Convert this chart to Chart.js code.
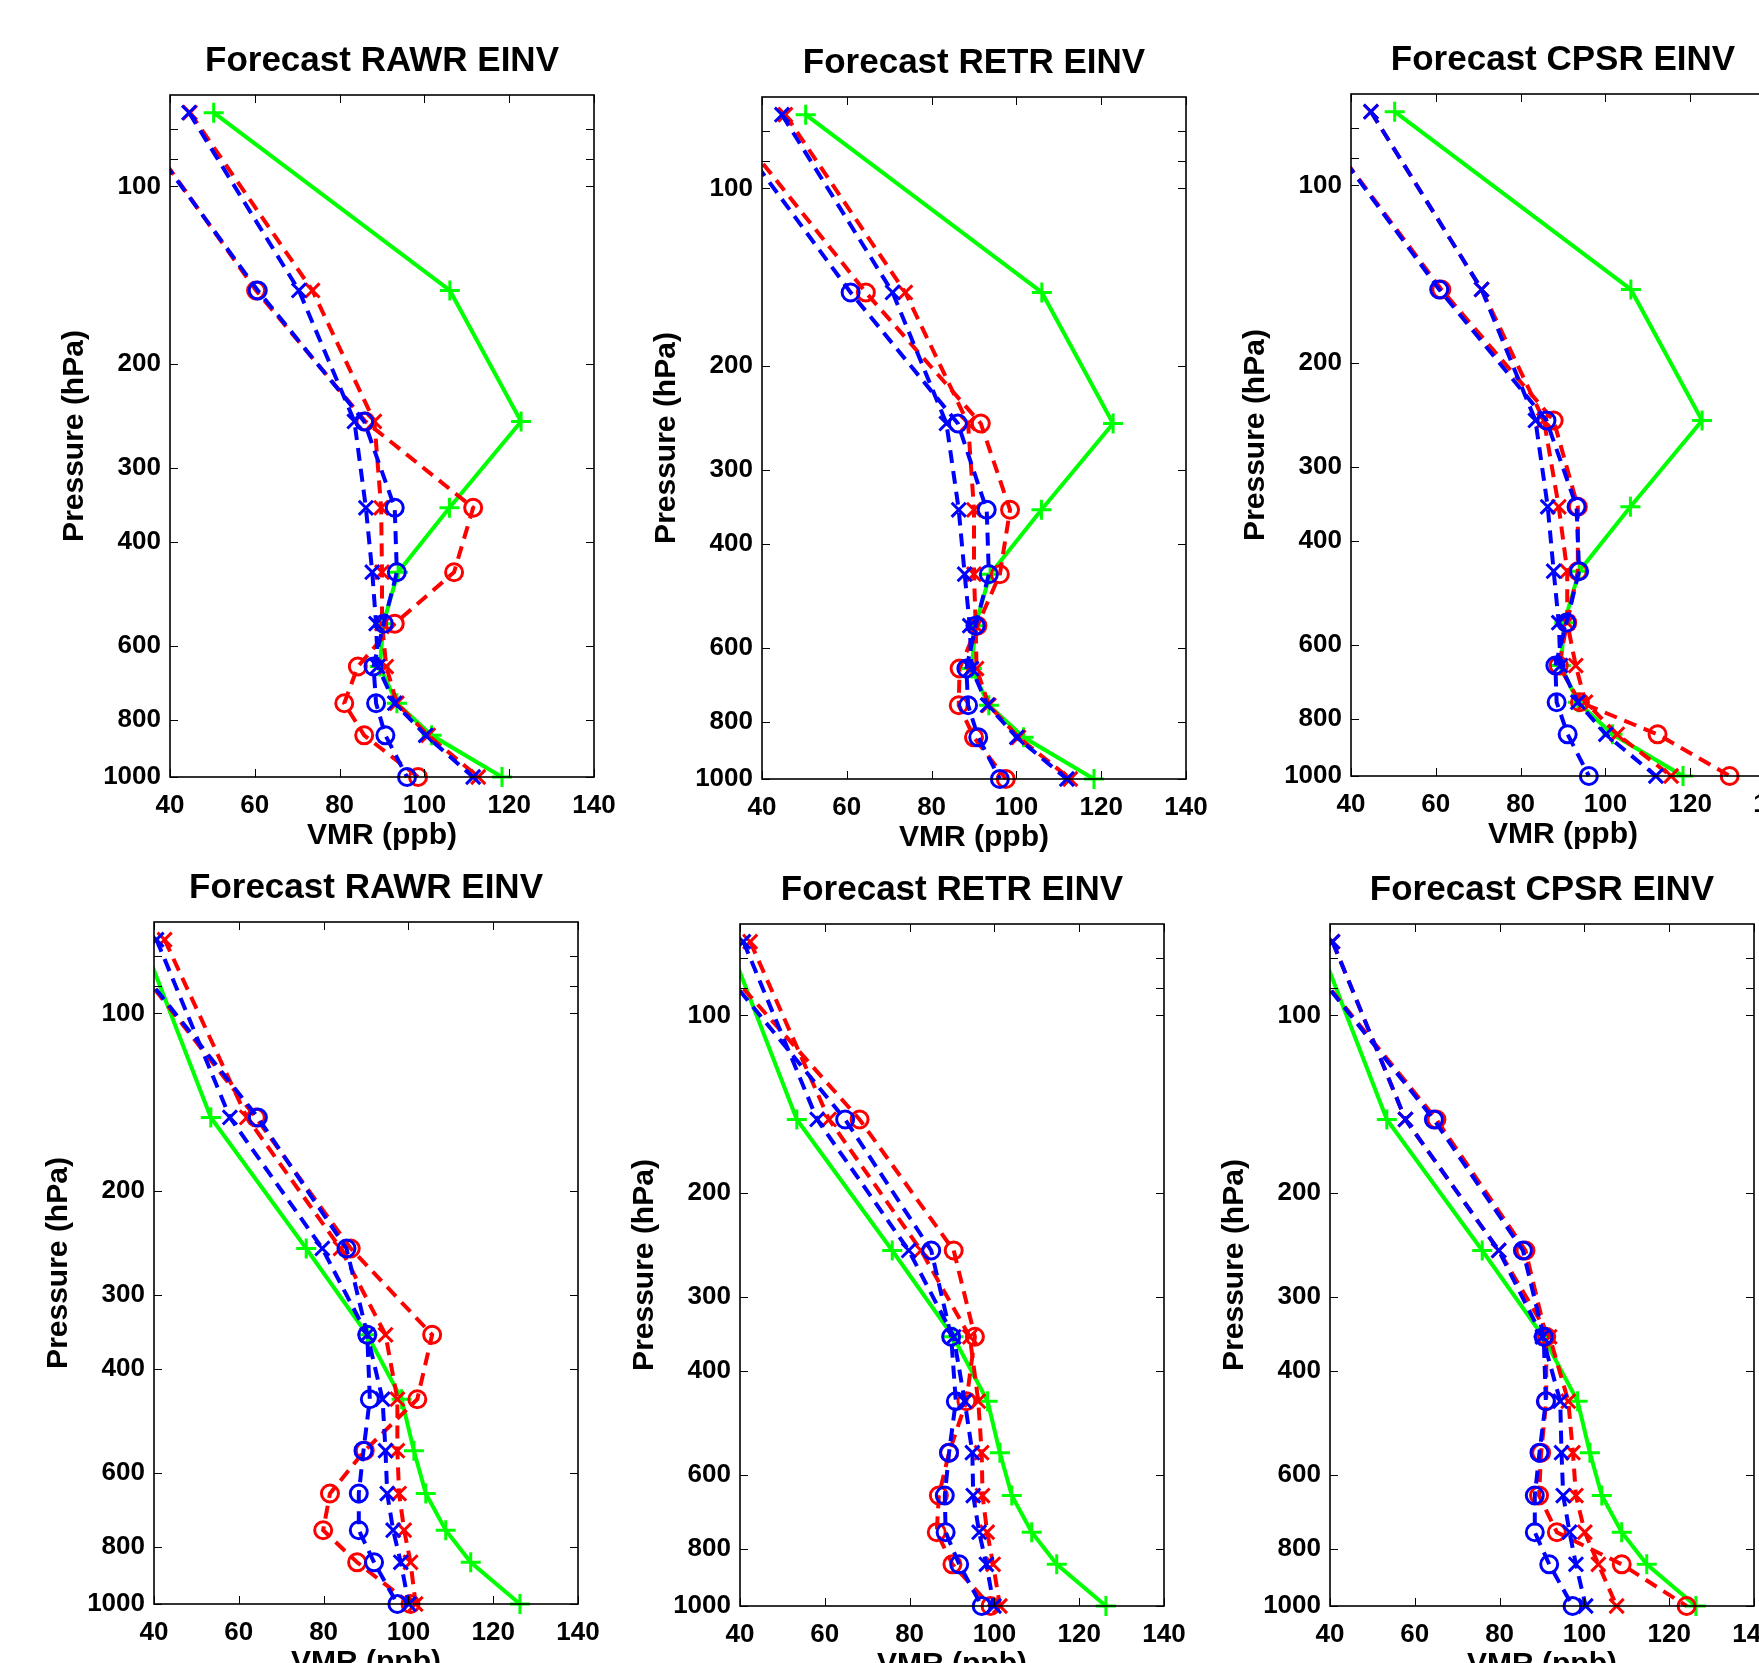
<!DOCTYPE html>
<html>
<head>
<meta charset="utf-8">
<title>Forecast EINV profiles</title>
<script src="https://cdn.jsdelivr.net/npm/chart.js@4.4.1/dist/chart.umd.min.js"></script>
<style>
    html, body { margin: 0; padding: 0; background: #fff; }
    body { width: 1759px; height: 1663px; overflow: hidden; position: relative; }
    canvas { position: absolute; }
</style>
</head>
<body>
<script>
/* ------------------ DATA ------------------ */
const levels = [75, 150, 250, 350, 450, 550, 650, 750, 850, 1000];   // hPa

const xTicks = [40, 60, 80, 100, 120, 140];
const pLabels = [100, 200, 300, 400, 600, 800, 1000];
const pMinor = [80, 90];

const titles = ["Forecast RAWR EINV", "Forecast RETR EINV", "Forecast CPSR EINV"];

// green reference profile (same in each row)
const greenTop = [50.3, 106.0, 122.8, 105.9, 93.8, 90.3, 89.5, 93.5, 101.7, 118.3];
const greenBot = [37.2, 53.4, 75.9, 90.3, 98.4, 101.3, 104.1, 108.8, 114.7, 126.3];

// top row
const rawrTopRedX  = [44.7, 73.6, 88.2, 89.8, 90.0, 90.0, 91.0, 93.5, 100.9, 112.7];
const rawrTopBlueX = [44.5, 70.4, 83.5, 86.2, 87.7, 88.6, 89.0, 93.0, 100.3, 111.5];
const rawrTopRedO  = [30.5, 60.3, 86.1, 111.5, 107.0, 93.0, 84.3, 81.1, 85.8, 98.5];
const rawrTopBlueO = [30.0, 60.7, 85.8, 93.0, 93.5, 90.4, 88.0, 88.6, 90.8, 95.9];

const retrTopRedX  = [45.5, 73.8, 88.6, 90.0, 90.0, 90.4, 90.6, 93.5, 100.5, 112.7];
const retrTopBlueX = [44.7, 70.8, 83.5, 86.4, 87.8, 89.0, 89.4, 93.2, 100.1, 111.9];
const retrTopRedO  = [31.0, 64.5, 91.6, 98.5, 96.1, 90.8, 86.6, 86.4, 90.0, 97.5];
const retrTopBlueO = [30.0, 60.9, 86.2, 93.0, 93.5, 90.4, 88.2, 88.6, 91.0, 96.1];

const cpsrTopRedX  = [44.7, 70.8, 85.5, 89.0, 91.0, 91.0, 93.0, 95.3, 102.8, 115.5];
const cpsrTopBlueX = [44.7, 70.8, 83.5, 86.4, 87.8, 89.0, 89.4, 93.5, 100.1, 111.9];
const cpsrTopRedO  = [30.0, 61.3, 87.8, 93.5, 93.5, 91.0, 89.0, 94.0, 112.3, 129.3];
const cpsrTopBlueO = [30.0, 60.8, 86.1, 93.2, 93.8, 90.8, 88.2, 88.5, 91.1, 96.1];

// bottom row
const rawrBotRedX  = [42.5, 61.9, 84.0, 94.6, 97.4, 97.4, 97.8, 99.0, 100.5, 101.7];
const rawrBotBlueX = [40.6, 57.9, 79.7, 90.3, 93.9, 94.6, 95.0, 96.4, 98.2, 100.1];
const rawrBotRedO  = [31.0, 64.0, 86.4, 105.6, 102.1, 89.7, 81.5, 79.9, 87.9, 100.5];
const rawrBotBlueO = [31.2, 64.5, 85.4, 90.3, 90.9, 89.4, 88.3, 88.3, 91.9, 97.4];

const retrBotRedX  = [42.4, 61.0, 82.7, 94.2, 96.2, 97.0, 97.2, 98.3, 99.7, 101.3];
const retrBotBlueX = [40.8, 58.2, 79.8, 90.4, 93.0, 94.8, 95.0, 96.4, 98.1, 99.9];
const retrBotRedO  = [31.0, 68.2, 90.4, 95.4, 93.4, 89.3, 86.9, 86.4, 90.1, 99.1];
const retrBotBlueO = [30.5, 64.8, 85.1, 89.8, 90.9, 89.3, 88.3, 88.5, 91.7, 97.0];

const cpsrBotRedX  = [40.6, 57.8, 79.8, 91.8, 96.2, 97.3, 98.0, 100.1, 103.3, 107.6];
const cpsrBotBlueX = [40.6, 57.8, 79.8, 90.1, 94.3, 94.6, 95.0, 96.5, 98.0, 100.3];
const cpsrBotRedO  = [31.0, 65.1, 86.1, 91.0, 91.0, 89.8, 89.3, 93.5, 108.8, 124.1];
const cpsrBotBlueO = [31.0, 64.5, 85.5, 90.4, 90.9, 89.4, 88.3, 88.3, 91.7, 97.2];

/* ------------------ LAYOUT ------------------ */
// plot box left/top for each panel (page pixels)
const panels = [
    { title: titles[0], left: 170,  top: 95,  green: greenTop, rx: rawrTopRedX, bx: rawrTopBlueX, ro: rawrTopRedO, bo: rawrTopBlueO },
    { title: titles[1], left: 762,  top: 97,  green: greenTop, rx: retrTopRedX, bx: retrTopBlueX, ro: retrTopRedO, bo: retrTopBlueO },
    { title: titles[2], left: 1351, top: 94,  green: greenTop, rx: cpsrTopRedX, bx: cpsrTopBlueX, ro: cpsrTopRedO, bo: cpsrTopBlueO },
    { title: titles[0], left: 154,  top: 922, green: greenBot, rx: rawrBotRedX, bx: rawrBotBlueX, ro: rawrBotRedO, bo: rawrBotBlueO },
    { title: titles[1], left: 740,  top: 924, green: greenBot, rx: retrBotRedX, bx: retrBotBlueX, ro: retrBotRedO, bo: retrBotBlueO },
    { title: titles[2], left: 1330, top: 924, green: greenBot, rx: cpsrBotRedX, bx: cpsrBotBlueX, ro: cpsrBotRedO, bo: cpsrBotBlueO }
];

const AXIS_W = 170;   // room left of the box
const TOP_H = 95;     // room above the box
const BOX_W = 424;
const BOX_H = 682;
const BOTTOM_H = 93;
const RIGHT_PAD = 45;

Chart.defaults.font.family = "'Liberation Sans', Arial, Helvetica, sans-serif";
Chart.defaults.color = "#000";

/* ------------------ BOX + INWARD TICKS ------------------ */
const frameTicks = {
    id: "frameTicks",
    afterDraw(chart) {
        const { ctx, chartArea: a, scales: { x, y } } = chart;
        const len = 8;
        ctx.save();
        ctx.strokeStyle = "#000";
        ctx.lineWidth = 1;
        ctx.beginPath();
        xTicks.forEach(v => {
            const px = Math.round(x.getPixelForValue(v)) + 0.5;
            ctx.moveTo(px, a.bottom); ctx.lineTo(px, a.bottom - len);
            ctx.moveTo(px, a.top); ctx.lineTo(px, a.top + len);
        });
        pMinor.concat(pLabels).forEach(v => {
            const py = Math.round(y.getPixelForValue(v)) + 0.5;
            ctx.moveTo(a.left, py); ctx.lineTo(a.left + len, py);
            ctx.moveTo(a.right, py); ctx.lineTo(a.right - len, py);
        });
        ctx.stroke();
        ctx.lineWidth = 1.6;
        ctx.strokeRect(a.left, a.top, a.right - a.left, a.bottom - a.top);
        ctx.restore();
    }
};

/* ------------------ SERIES ------------------ */
function makeSeries(values, color, style, dashed) {
    return {
        data: values.map((v, i) => ({ x: v, y: levels[i] })),
        showLine: true,
        borderColor: color,
        backgroundColor: "rgba(0,0,0,0)",
        borderWidth: 4,
        borderDash: dashed ? [13, 8] : [],
        pointStyle: style,
        pointRadius: style === "circle" ? 8.5 : 10,
        pointBorderWidth: 3,
        pointBorderColor: color,
        pointBackgroundColor: "rgba(0,0,0,0)",
        tension: 0,
        clip: { left: 0, top: 15, right: 15, bottom: 15 }
    };
}

function drawPanel(p) {
    const canvas = document.createElement("canvas");
    canvas.width = AXIS_W + BOX_W + RIGHT_PAD;
    canvas.height = TOP_H + BOX_H + BOTTOM_H;
    canvas.style.left = (p.left - AXIS_W) + "px";
    canvas.style.top = (p.top - TOP_H) + "px";
    document.body.appendChild(canvas);

    new Chart(canvas.getContext("2d"), {
        type: "scatter",
        data: {
            // first entry is drawn on top
            datasets: [
                makeSeries(p.bo, "#0000ff", "circle", true),
                makeSeries(p.bx, "#0000ff", "crossRot", true),
                makeSeries(p.ro, "#ff0000", "circle", true),
                makeSeries(p.rx, "#ff0000", "crossRot", true),
                makeSeries(p.green, "#00ff00", "cross", false)
            ]
        },
        options: {
            responsive: false,
            animation: false,
            devicePixelRatio: 1,
            events: [],
            layout: { padding: { left: 0, right: RIGHT_PAD, top: 0, bottom: 0 } },
            plugins: {
                legend: { display: false },
                tooltip: { enabled: false },
                title: {
                    display: true,
                    text: p.title,
                    fullSize: false,
                    color: "#000",
                    font: { size: 35, weight: "bold" },
                    padding: { top: 40.5, bottom: 12.5 }
                }
            },
            scales: {
                x: {
                    type: "linear",
                    min: 40,
                    max: 140,
                    grid: { display: false },
                    border: { display: false },
                    afterBuildTicks: s => { s.ticks = xTicks.map(v => ({ value: v })); },
                    afterFit: s => { s.height = BOTTOM_H; },
                    ticks: { autoSkip: false, maxRotation: 0, padding: 5, color: "#000",
                             font: { size: 26, weight: "bold" } },
                    title: { display: true, text: "VMR (ppb)", color: "#000",
                             font: { size: 30, weight: "bold" }, padding: { top: 0, bottom: 16 } }
                },
                y: {
                    type: "logarithmic",
                    reverse: true,
                    min: 70,
                    max: 1000,
                    grid: { display: false },
                    border: { display: false },
                    afterBuildTicks: s => { s.ticks = pMinor.concat(pLabels).map(v => ({ value: v })); },
                    afterFit: s => { s.width = AXIS_W; },
                    ticks: { autoSkip: false, padding: 1, color: "#000",
                             font: { size: 26, weight: "bold" },
                             callback: v => pLabels.includes(v) ? String(v) : "" },
                    title: { display: true, text: "Pressure (hPa)", color: "#000",
                             font: { size: 30, weight: "bold" }, padding: { top: 57, bottom: 0 } }
                }
            }
        },
        plugins: [frameTicks]
    });
}

panels.forEach(drawPanel);
</script>
</body>
</html>
